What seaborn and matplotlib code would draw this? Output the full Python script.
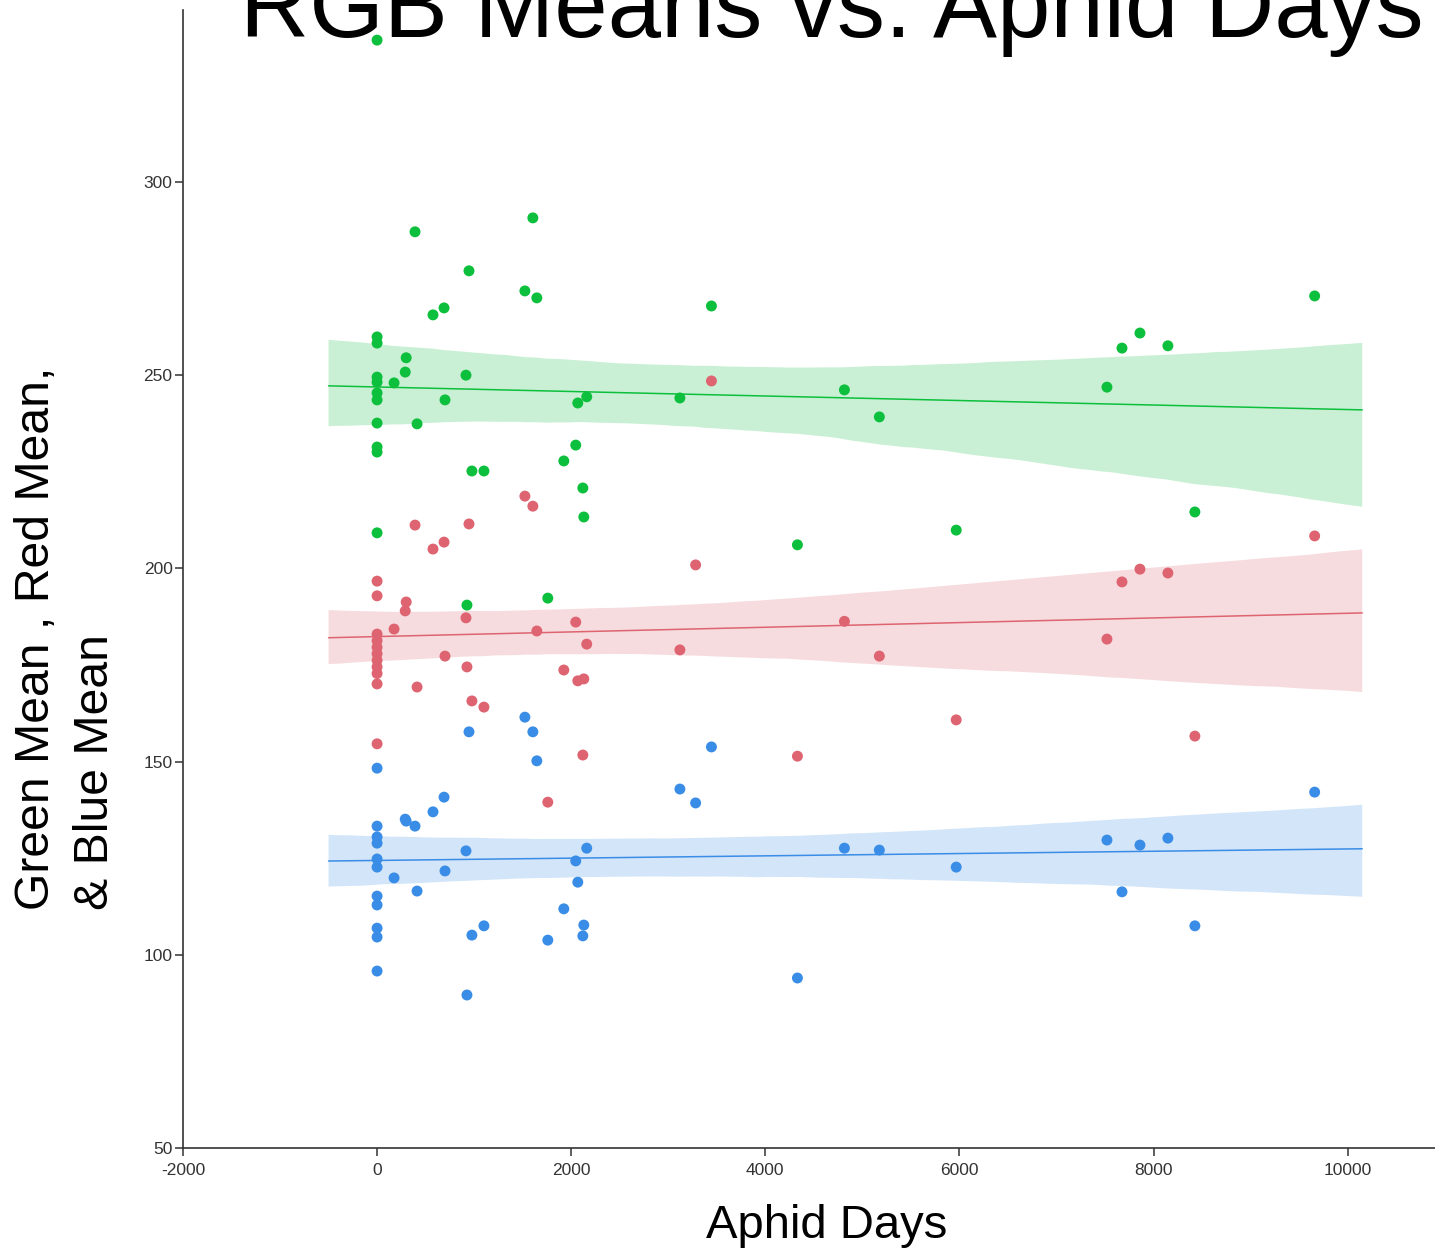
import numpy as np
import pandas as pd
import matplotlib
matplotlib.use("Agg")
import matplotlib.pyplot as plt
import seaborn as sns

# Aphid days per sample, with the mean of each colour channel
aphid_days = [0, 0, 0, 0, 0, 0, 0, 0, 0, 0, 0,
              175, 290, 300, 391, 412, 576, 690, 700, 916, 926, 947, 977, 1101,
              1523, 1605, 1646, 1759, 1924, 2047, 2068, 2120, 2130, 2160,
              3120, 3282, 3445, 4331, 4815, 5175, 5967,
              7520, 7675, 7860, 8148, 8426, 9660]

green_mean = [336.7, 259.9, 258.3, 249.5, 248.2, 245.4, 243.6, 237.6, 231.4, 230.1, 209.2,
              248.0, 250.8, 254.5, 287.1, 237.4, 265.6, 267.4, 243.6, 250.0, 190.5, 277.0, 225.2, 225.2,
              271.8, 290.7, 270.0, 192.3, 227.8, 231.9, 242.8, 220.8, 213.3, 244.4,
              244.1, np.nan, 267.9, 206.1, 246.2, 239.2, 209.9,
              246.9, 257.0, 260.9, 257.6, 214.6, 270.5]

red_mean = [196.7, 192.9, 183.0, 181.3, 179.6, 177.9, 176.2, 174.5, 172.8, 170.1, 154.6,
            184.3, 189.0, 191.3, 211.2, 169.3, 205.0, 206.8, 177.3, 187.2, 174.5, 211.5, 165.7, 164.1,
            218.7, 216.1, 183.8, 139.5, 173.7, 186.1, 170.9, 151.7, 171.4, 180.4,
            178.9, 200.9, 248.5, 151.4, 186.3, 177.3, 160.8,
            181.7, 196.5, 199.8, 198.8, 156.6, 208.4]

blue_mean = [148.3, 133.3, 130.5, 128.9, 124.8, 122.7, 115.2, 112.9, 106.9, 104.6, 95.8,
             119.9, 135.1, 134.6, 133.3, 116.5, 137.0, 140.8, 121.7, 126.9, 89.6, 157.7, 105.1, 107.5,
             161.5, 157.7, 150.2, 103.8, 111.9, 124.3, 118.8, 104.9, 107.7, 127.6,
             142.9, 139.3, 153.8, 94.0, 127.6, 127.1, 122.7,
             129.7, 116.3, 128.4, 130.2, 107.5, 142.1]

x_ticks = [-2000, 0, 2000, 4000, 6000, 8000, 10000]
y_ticks = [50, 100, 150, 200, 250, 300]

df = pd.DataFrame({"Aphid Days": aphid_days, "Green Mean": green_mean,
                   "Red Mean": red_mean, "Blue Mean": blue_mean})

series = [("Green Mean", "#0cbf3c"),
          ("Red Mean", "#dd6470"),
          ("Blue Mean", "#3a8de6")]

sns.set_style("ticks")
plt.rcParams["font.family"] = ["Liberation Sans", "DejaVu Sans"]
plt.rcParams["axes.unicode_minus"] = False

fig = plt.figure(figsize=(14.35, 12.48), dpi=100)
ax = fig.add_axes([0.1275, 0.0801, 0.8725, 0.9119])

# fit range for the regression bands
ax.set_xlim(-500, 10150)
for col, color in series:
    sns.regplot(data=df, x="Aphid Days", y=col, ax=ax, color=color,
                truncate=False, ci=95, seed=3, n_boot=2000,
                scatter_kws=dict(s=62, alpha=1, edgecolors="none", zorder=3),
                line_kws=dict(lw=1.1, zorder=2))

for coll in ax.collections:
    if isinstance(coll, matplotlib.collections.PolyCollection):
        coll.set_alpha(0.22)
        coll.set_edgecolor("none")

ax.set_xlim(-2000, 10900)
ax.set_ylim(50, 344.5)
ax.set_xticks(x_ticks)
ax.set_yticks(y_ticks)
ax.set_xlabel("")
ax.set_ylabel("")
sns.despine(ax=ax)
for sp in ("left", "bottom"):
    ax.spines[sp].set_color("#333333")
    ax.spines[sp].set_linewidth(1.2)
ax.tick_params(axis="both", length=6, width=1.1, color="#333333",
               labelsize=12.5, labelcolor="#333333", pad=1.5)
ax.tick_params(axis="x", pad=4.5)

fig.text(0.580, 1 - 37 / 1248, "RGB Means vs. Aphid Days", ha="center",
         va="baseline", fontsize=69, color="black")
fig.text(0.576, 1 - 1238 / 1248, "Aphid Days", ha="center", va="baseline",
         fontsize=34, color="black")
fig.text(0.046, 1 - 910 / 1248, "Green Mean , Red Mean,\n& Blue Mean",
         rotation=90, ha="center", va="bottom", multialignment="left",
         fontsize=34.7, linespacing=1.4, color="black")

fig.savefig("out.png", dpi=100)
